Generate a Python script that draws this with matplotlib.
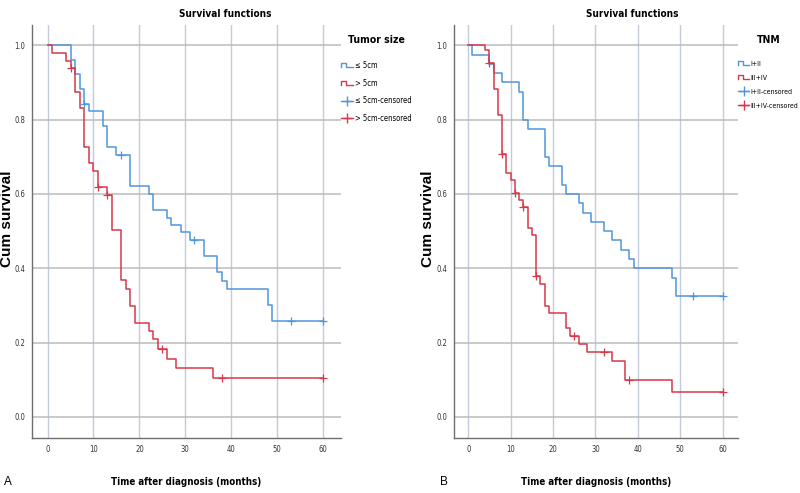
import numpy as np
import matplotlib
matplotlib.use('Agg')
import matplotlib.pyplot as plt
from matplotlib.lines import Line2D
from matplotlib.legend_handler import HandlerBase
from matplotlib import font_manager as fm

# panel A: tumor size
a_small_t = [0, 5, 6, 7, 8, 9, 12, 13, 15, 18, 22, 23, 26, 27, 29, 31, 34, 37, 38, 39, 48, 49, 60]
a_small_s = [1.0, 0.961, 0.922, 0.883, 0.843, 0.823, 0.784, 0.725, 0.705, 0.62, 0.60, 0.558, 0.536,
             0.517, 0.498, 0.477, 0.433, 0.389, 0.367, 0.345, 0.302, 0.259, 0.259]
a_small_c = [8, 16, 32, 53, 60]

a_large_t = [0, 1, 4, 5, 6, 7, 8, 9, 10, 11, 13, 14, 16, 17, 18, 19, 22, 23, 24, 26, 28, 36, 60]
a_large_s = [1.0, 0.98, 0.958, 0.938, 0.874, 0.832, 0.726, 0.682, 0.661, 0.619, 0.598, 0.504, 0.369,
             0.344, 0.299, 0.254, 0.231, 0.209, 0.184, 0.157, 0.132, 0.105, 0.105]
a_large_c = [5, 11, 13, 25, 38, 60]

# panel B: TNM stage
b_early_t = [0, 1, 5, 6, 8, 12, 13, 14, 18, 19, 22, 23, 26, 27, 29, 32, 34, 36, 38, 39, 48, 49, 60]
b_early_s = [1.0, 0.975, 0.95, 0.925, 0.90, 0.875, 0.80, 0.775, 0.70, 0.675, 0.625, 0.60, 0.575,
             0.55, 0.525, 0.50, 0.475, 0.45, 0.425, 0.40, 0.375, 0.325, 0.325]
b_early_c = [53, 60]

b_late_t = [0, 4, 5, 6, 7, 8, 9, 10, 11, 12, 13, 14, 15, 16, 17, 18, 19, 23, 24, 26, 28, 34, 37, 48, 60]
b_late_s = [1.0, 0.987, 0.951, 0.881, 0.812, 0.707, 0.655, 0.637, 0.603, 0.583, 0.565, 0.509, 0.49,
            0.378, 0.359, 0.299, 0.279, 0.239, 0.218, 0.197, 0.175, 0.15, 0.10, 0.066, 0.066]
b_late_c = [5, 8, 11, 13, 16, 25, 32, 38, 60]

a_labels = ['≤ 5cm', '> 5cm', '≤ 5cm-censored', '> 5cm-censored']
b_labels = ['I+II', 'III+IV', 'I+II-censored', 'III+IV-censored']

BLUE = '#5096dd'
RED = '#d7384a'


def narrow(size, weight='normal'):
    return fm.FontProperties(family='DejaVu Sans', stretch='condensed', size=size, weight=weight)


class StepHandler(HandlerBase):
    def create_artists(self, legend, orig, xd, yd, w, h, fontsize, trans):
        x = [xd, xd, xd + w * 0.45, xd + w * 0.45, xd + w]
        y = [yd + h * 0.1, yd + h * 0.9, yd + h * 0.9, yd + h * 0.1, yd + h * 0.1]
        ln = Line2D(x, y, color=orig.get_color(), lw=1.0, transform=trans)
        return [ln]


def km(ax, t, s, c, color):
    ax.step(t, s, where='post', color=color, lw=1.1, zorder=3)
    t = np.array(t)
    s = np.array(s)
    idx = np.searchsorted(t, c, side='right') - 1
    ax.plot(c, s[idx], ls='none', marker='+', ms=6, mew=0.9, color=color, zorder=4)


def style(ax, xlim):
    ax.set_xlim(*xlim)
    ax.set_ylim(-0.056, 1.054)
    ax.set_xticks(range(0, 61, 10))
    ax.set_yticks(np.arange(0, 1.01, 0.2))
    ax.set_yticklabels(['0.0', '0.2', '0.4', '0.6', '0.8', '1.0'])
    for sp in ['top', 'right']:
        ax.spines[sp].set_visible(False)
    for sp in ['left', 'bottom']:
        ax.spines[sp].set_color('#6e6e6e')
        ax.spines[sp].set_linewidth(1.0)
    ax.tick_params(length=0, labelcolor='#333333', pad=5)
    for lab in ax.get_xticklabels() + ax.get_yticklabels():
        lab.set_fontproperties(narrow(5.5))
    ax.yaxis.grid(True, color='#bcbcbc', lw=1.1)
    ax.xaxis.grid(True, color='#c3cadb', lw=1.0)
    ax.set_axisbelow(True)


fig = plt.figure(figsize=(8, 4.93), dpi=100)
axA = fig.add_axes([0.04, 0.112, 0.386, 0.837])
axB = fig.add_axes([0.5675, 0.112, 0.355, 0.837])

km(axA, a_small_t, a_small_s, a_small_c, BLUE)
km(axA, a_large_t, a_large_s, a_large_c, RED)
km(axB, b_early_t, b_early_s, b_early_c, BLUE)
km(axB, b_late_t, b_late_s, b_late_c, RED)

style(axA, (-3.4, 63.9))
style(axB, (-3.35, 63.6))

for ax, labels, title, ylx, fsz in [(axA, a_labels, 'Tumor size', -0.058, 5.5),
                                    (axB, b_labels, 'TNM', -0.066, 5.0)]:
    handles = [Line2D([], [], color=BLUE), Line2D([], [], color=RED),
               Line2D([], [], color=BLUE, marker='+', ms=7, lw=1.0),
               Line2D([], [], color=RED, marker='+', ms=7, lw=1.0)]
    hmap = {handles[0]: StepHandler(), handles[1]: StepHandler()}
    leg = ax.legend(handles, labels, handler_map=hmap, loc='upper left',
                    bbox_to_anchor=(1.0, 0.975), frameon=False, title=title,
                    prop=narrow(fsz), handlelength=1.6, borderpad=0.0,
                    handletextpad=0.25, labelspacing=1.15, borderaxespad=0.0)
    leg.get_title().set_fontproperties(narrow(7.5, 'bold'))
    leg._legend_box.sep = 11

    ax.set_ylabel('Cum survival', fontsize=11, fontweight='bold',
                  family=['Liberation Sans', 'DejaVu Sans'])
    ax.yaxis.set_label_coords(ylx, 0.53)
    ax.set_xlabel('Time after diagnosis (months)', fontproperties=narrow(7, 'bold'), labelpad=17)

fig.text(225 / 800, 1 - 14 / 493, 'Survival functions', ha='center', va='center',
         fontproperties=narrow(7.2, 'bold'))
fig.text(632 / 800, 1 - 14 / 493, 'Survival functions', ha='center', va='center',
         fontproperties=narrow(7.2, 'bold'))
fig.text(8 / 800, 1 - 482 / 493, 'A', ha='center', va='center', fontsize=8.5,
         family=['Liberation Sans', 'DejaVu Sans'])
fig.text(444 / 800, 1 - 482 / 493, 'B', ha='center', va='center', fontsize=8.5,
         family=['Liberation Sans', 'DejaVu Sans'])

fig.savefig('out.png', dpi=100, facecolor='white')
